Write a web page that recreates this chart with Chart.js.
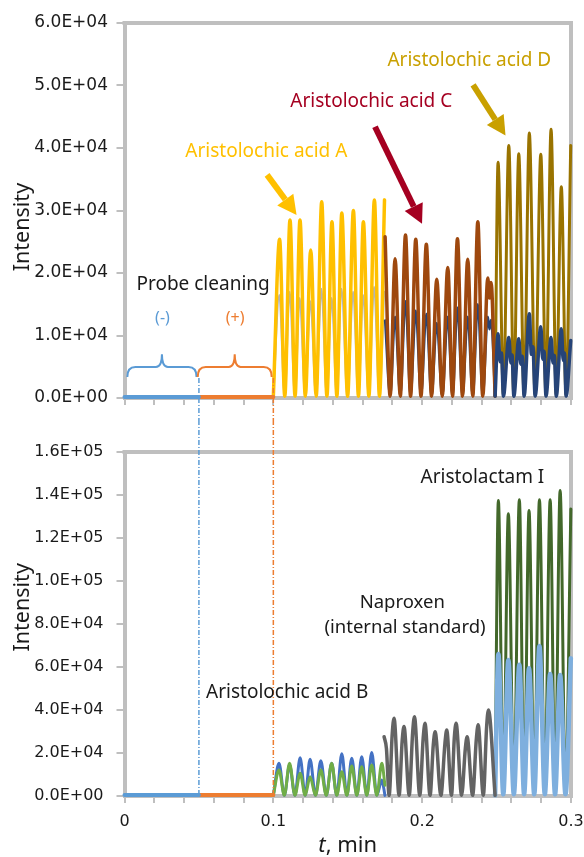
<!DOCTYPE html>
<html>
<head>
<meta charset="utf-8">
<script src="https://cdn.jsdelivr.net/npm/chart.js@4.4.1/dist/chart.umd.min.js"></script>
<style>
  html, body { margin: 0; padding: 0; background: #fff; }
  canvas { display: block; }
</style>
</head>
<body>
<canvas id="topChart" width="584" height="420"></canvas>
<canvas id="bottomChart" width="584" height="437"></canvas>
<script>
// ---------------- Axis labels ----------------
const xMajor = [0, 0.1, 0.2, 0.3];
const xMajorLabels = ["0", "0.1", "0.2", "0.3"];
const topYLabels = ["0.0E+00", "1.0E+04", "2.0E+04", "3.0E+04", "4.0E+04", "5.0E+04", "6.0E+04"];
const bottomYLabels = ["0.0E+00", "2.0E+04", "4.0E+04", "6.0E+04", "8.0E+04", "1.0E+05", "1.2E+05", "1.4E+05", "1.6E+05"];

// ---------------- Top panel data (t in min, intensity) ----------------
const cleanNegT = [0, 0.05];
const cleanNegI = [150, 150];
const cleanPosT = [0.05, 0.1];
const cleanPosI = [150, 150];

const aaAT = [0.1000, 0.1042, 0.1077, 0.1112, 0.1146, 0.1179, 0.1215, 0.1251, 0.1288, 0.1325, 0.1360,
              0.1394, 0.1427, 0.1460, 0.1499, 0.1538, 0.1572, 0.1605, 0.1642, 0.1679, 0.1713, 0.1747];
const aaAI = [200, 25400, 300, 28500, 300, 28500, 300, 23700, 300, 31400, 300,
              28200, 300, 29600, 300, 30000, 300, 28200, 300, 31700, 300, 31700];

const grayAT = [0.1000, 0.1040, 0.1076, 0.1110, 0.1145, 0.1177, 0.1214, 0.1249, 0.1287, 0.1323, 0.1359,
                0.1392, 0.1426, 0.1458, 0.1498, 0.1536, 0.1571, 0.1603, 0.1641, 0.1677, 0.1712, 0.1745];
const grayAI = [200, 16500, 300, 17000, 300, 16000, 300, 15500, 300, 17500, 300,
                16000, 300, 17500, 300, 17000, 300, 16500, 300, 17800, 300, 17000];

const aaCT = [0.1751, 0.1785, 0.1818, 0.1853, 0.1888, 0.1922, 0.1957, 0.1992, 0.2028, 0.2063, 0.2098, 0.2135,
              0.2172, 0.2204, 0.2237, 0.2271, 0.2306, 0.2340, 0.2374, 0.2407, 0.2441, 0.2452, 0.2463, 0.2490];
const aaCI = [25800, 300, 22300, 300, 26100, 300, 25400, 300, 24600, 300, 19000, 300,
              20900, 300, 25500, 300, 22200, 300, 28200, 300, 19200, 16000, 18500, 300];

// second channel under Aristolochic acid C
const navyCT = [0.1751, 0.1785, 0.1818, 0.1853, 0.1888, 0.1922, 0.1957, 0.1992, 0.2028, 0.2063, 0.2098, 0.2135,
                0.2172, 0.2204, 0.2237, 0.2271, 0.2306, 0.2340, 0.2374, 0.2407, 0.2441, 0.2452, 0.2463, 0.2490];
const navyCI = [12400, 300, 13000, 300, 15500, 300, 14000, 300, 13500, 300, 12000, 300,
                13000, 300, 14500, 300, 13000, 300, 15000, 300, 13000, 11000, 12500, 300];

// second channel under Aristolochic acid D (peak, dip, shoulder, trough)
const navyDT = [0.2490, 0.2510, 0.2524, 0.2533, 0.2546, 0.2582, 0.2596, 0.2604, 0.2616, 0.2649, 0.2663, 0.2672,
                0.2685, 0.2720, 0.2734, 0.2744, 0.2759, 0.2797, 0.2810, 0.2819, 0.2832, 0.2866, 0.2879, 0.2888,
                0.2901, 0.2935, 0.2948, 0.2956, 0.2967, 0.2998];
const navyDI = [300, 10300, 5800, 7200, 300, 9700, 5600, 6900, 300, 9500, 5400, 6700,
                300, 13500, 7000, 8200, 300, 11400, 6200, 7500, 300, 9700, 5600, 6800,
                300, 11100, 6000, 7200, 300, 9200];

const aaDT = [0.2490, 0.2510, 0.2546, 0.2582, 0.2616, 0.2649, 0.2685, 0.2720, 0.2759, 0.2797, 0.2832,
              0.2866, 0.2901, 0.2935, 0.2967, 0.2998];
const aaDI = [300, 37700, 500, 40400, 500, 39100, 500, 42400, 500, 39000, 500,
              43000, 500, 33800, 500, 40400];

// ---------------- Bottom panel data ----------------
const cleanNeg2I = [500, 500];
const cleanPos2I = [500, 500];

const aaBT = [0.1000, 0.1038, 0.1074, 0.1109, 0.1145, 0.1180, 0.1214, 0.1247, 0.1283, 0.1319, 0.1356, 0.1392,
              0.1426, 0.1460, 0.1494, 0.1527, 0.1561, 0.1594, 0.1628, 0.1661, 0.1695, 0.1729, 0.1750];
const aaBI = [300, 15200, 300, 14400, 300, 17800, 300, 17100, 300, 16400, 300, 15200,
              300, 19600, 300, 17600, 300, 18300, 300, 20200, 300, 7400, 300];
const greenBI = [300, 12100, 300, 15200, 300, 10600, 300, 9000, 300, 12100, 300, 15200,
                 300, 11300, 300, 14000, 300, 13600, 300, 14400, 300, 15200, 5000];

const naproxenT = [0.1744, 0.1760, 0.1778, 0.1799, 0.1811, 0.1845, 0.1866, 0.1878, 0.1913, 0.1936, 0.1948,
                   0.1984, 0.2007, 0.2019, 0.2053, 0.2075, 0.2087, 0.2126, 0.2153, 0.2165, 0.2197, 0.2216,
                   0.2228, 0.2265, 0.2290, 0.2302, 0.2339, 0.2364, 0.2376, 0.2411, 0.2433, 0.2445, 0.2490];
const naproxenI = [27600, 22000, 300, 29000, 36200, 300, 26000, 32300, 300, 29500, 36900,
                   300, 27000, 33800, 300, 24000, 29900, 300, 24500, 30700, 300, 27000,
                   33800, 300, 22000, 27600, 300, 26500, 33100, 300, 32000, 40000, 300];

const lactamT = [0.2490, 0.2512, 0.2545, 0.2579, 0.2616, 0.2653, 0.2685, 0.2718, 0.2753, 0.2788, 0.2824,
                 0.2860, 0.2893, 0.2927, 0.2963, 0.2999];
const lactamI = [300, 137500, 1000, 131300, 1000, 137800, 1000, 132800, 1000, 137800, 1000,
                 137800, 1000, 142100, 1000, 133500];
const lactamBlueI = [300, 66100, 800, 63300, 800, 61000, 800, 59400, 800, 69800, 800,
                     56800, 800, 56300, 800, 64100];

// ---------------- Helpers ----------------
Chart.defaults.font.family = "'Noto Sans', sans-serif";
Chart.defaults.color = "#1a1a1a";

const AXIS = "#BFBFBF";

function pairs(t, v) { return t.map((x, i) => ({ x, y: v[i] })); }

function lineSet(t, v, color, width) {
    return {
        data: pairs(t, v),
        borderColor: color,
        borderWidth: width,
        pointRadius: 0,
        fill: false,
        cubicInterpolationMode: "monotone",
        borderJoinStyle: "round",
        borderCapStyle: "round",
        clip: 4
    };
}

function xScale(showLabels, height) {
    return {
        type: "linear", min: 0, max: 0.3,
        afterFit: s => {
            s.height = height;
            s.paddingLeft = 0; s.paddingRight = 0;
        },
        grid: { drawOnChartArea: false, tickLength: 7, color: AXIS, lineWidth: 2 },
        border: { color: AXIS, width: 4 },
        ticks: {
            display: showLabels, stepSize: 0.02, autoSkip: false, maxRotation: 0, padding: 9,
            font: { family: "'DejaVu Sans'", size: 16 }, color: "#1a1a1a",
            callback: v => {
                const k = xMajor.findIndex(m => Math.abs(m - v) < 1e-6);
                return k >= 0 ? xMajorLabels[k] : "";
            }
        }
    };
}

function yScale(max, step, labels, size, pad) {
    return {
        min: 0, max,
        afterFit: s => {
            s.width = 124.5;
            s.paddingTop = 0; s.paddingBottom = 0;
        },
        grid: { drawOnChartArea: false, tickLength: 8, color: AXIS, lineWidth: 2 },
        border: { color: AXIS, width: 4 },
        ticks: {
            stepSize: step, padding: pad, color: "#1a1a1a",
            font: { family: "'DejaVu Sans'", size },
            callback: (v, i) => labels[i]
        }
    };
}

function drawArrow(ctx, x1, y1, x2, y2, color) {
    const ang = Math.atan2(y2 - y1, x2 - x1);
    const head = 19, half = 10;
    const bx = x2 - head * Math.cos(ang), by = y2 - head * Math.sin(ang);
    ctx.strokeStyle = color;
    ctx.lineWidth = 6;
    ctx.lineCap = "butt";
    ctx.beginPath(); ctx.moveTo(x1, y1); ctx.lineTo(bx, by); ctx.stroke();
    ctx.fillStyle = color;
    ctx.beginPath();
    ctx.moveTo(x2, y2);
    ctx.lineTo(bx + half * Math.sin(ang), by - half * Math.cos(ang));
    ctx.lineTo(bx - half * Math.sin(ang), by + half * Math.cos(ang));
    ctx.closePath(); ctx.fill();
}

function drawBrace(ctx, x1, x2, yEnd, yH, yTip, color) {
    const xm = (x1 + x2) / 2, r = 8;
    ctx.strokeStyle = color;
    ctx.lineWidth = 2;
    ctx.beginPath();
    ctx.moveTo(x1, yEnd);
    ctx.quadraticCurveTo(x1, yH, x1 + r, yH);
    ctx.lineTo(xm - 6, yH);
    ctx.quadraticCurveTo(xm, yH, xm, yTip);
    ctx.quadraticCurveTo(xm, yH, xm + 6, yH);
    ctx.lineTo(x2 - r, yH);
    ctx.quadraticCurveTo(x2, yH, x2, yEnd);
    ctx.stroke();
}

// ---------------- Decoration plugin ----------------
const decorPlugin = {
    id: "decor",
    beforeDatasetsDraw(chart) {
        const { ctx, chartArea: a } = chart;
        ctx.save();
        ctx.strokeStyle = AXIS;
        ctx.lineWidth = 4;
        ctx.beginPath();
        ctx.moveTo(a.left - 2, a.top);
        ctx.lineTo(a.right, a.top);
        ctx.lineTo(a.right, a.bottom + 2);
        ctx.stroke();
        ctx.restore();
    },
    afterDatasetsDraw(chart, args, opts) {
        const { ctx, scales: { x, y } } = chart;
        ctx.save();

        (opts.vlines || []).forEach(l => {
            const px = x.getPixelForValue(l.t);
            const y1 = l.from == null ? 0 : y.getPixelForValue(l.from);
            const y2 = l.to == null ? chart.height : y.getPixelForValue(l.to);
            ctx.strokeStyle = l.color;
            ctx.lineWidth = 1.5;
            ctx.setLineDash([5, 2, 1, 2]);
            ctx.beginPath(); ctx.moveTo(px, y1); ctx.lineTo(px, y2); ctx.stroke();
        });
        ctx.setLineDash([]);

        (opts.braces || []).forEach(b => {
            drawBrace(ctx, x.getPixelForValue(b.t1), x.getPixelForValue(b.t2),
                y.getPixelForValue(b.vEnd), y.getPixelForValue(b.vH), y.getPixelForValue(b.vTip), b.color);
        });

        (opts.arrows || []).forEach(a => {
            drawArrow(ctx, x.getPixelForValue(a.t1), y.getPixelForValue(a.v1),
                x.getPixelForValue(a.t2), y.getPixelForValue(a.v2), a.color);
        });

        ctx.textBaseline = "middle";
        ctx.textAlign = "center";
        (opts.texts || []).forEach(tx => {
            ctx.font = `${tx.size}px 'Noto Sans'`;
            ctx.fillStyle = tx.color || "#1a1a1a";
            ctx.fillText(tx.text, x.getPixelForValue(tx.t), y.getPixelForValue(tx.v));
        });

        // y axis title
        if (opts.yTitle) {
            ctx.save();
            ctx.translate(28.7, y.getPixelForValue(opts.yTitle.v));
            ctx.rotate(-Math.PI / 2);
            ctx.font = "21.5px 'Noto Sans'";
            ctx.fillStyle = "#1a1a1a";
            ctx.textAlign = "center";
            ctx.textBaseline = "alphabetic";
            ctx.fillText("Intensity", 0, 0);
            ctx.restore();
        }

        // x axis title: italic t
        if (opts.xTitle) {
            const cx = (chart.chartArea.left + chart.chartArea.right) / 2;
            const by = opts.xTitle.baseline;
            ctx.textBaseline = "alphabetic";
            ctx.textAlign = "left";
            ctx.fillStyle = "#1a1a1a";
            ctx.font = "italic 22px 'Noto Sans'";
            const w1 = ctx.measureText("t").width;
            ctx.font = "22px 'Noto Sans'";
            const w2 = ctx.measureText(", min").width;
            const sx = cx - (w1 + w2) / 2;
            ctx.font = "italic 22px 'Noto Sans'";
            ctx.fillText("t", sx, by);
            ctx.font = "22px 'Noto Sans'";
            ctx.fillText(", min", sx + w1, by);
        }
        ctx.restore();
    }
};

// ---------------- Top chart ----------------
new Chart(document.getElementById("topChart"), {
    type: "line",
    data: {
        datasets: [
            lineSet(cleanNegT, cleanNegI, "#5B9BD5", 4),
            lineSet(cleanPosT, cleanPosI, "#ED7D31", 4),
            lineSet(navyDT, navyDI, "#264478", 3.5),
            lineSet(aaCT, aaCI, "#9E480E", 3.5),
            lineSet(navyCT, navyCI, "#264478", 2.5),
            lineSet(aaDT, aaDI, "#997300", 3),
            lineSet(aaAT, aaAI, "#FFC000", 3.5),
            lineSet(grayAT, grayAI, "#B4B4B4", 2)
        ]
    },
    options: {
        responsive: false,
        animation: false,
        layout: { padding: { top: 23, right: 13, bottom: 0, left: 0 } },
        plugins: {
            legend: { display: false },
            tooltip: { enabled: false },
            decor: {
                vlines: [
                    { t: 0.05, from: 3200, to: null, color: "#5B9BD5" },
                    { t: 0.1, from: 3200, to: null, color: "#ED7D31" }
                ],
                braces: [
                    { t1: 0.0019, t2: 0.0484, vEnd: 3370, vH: 4970, vTip: 7000, color: "#5B9BD5" },
                    { t1: 0.0492, t2: 0.0989, vEnd: 3370, vH: 4970, vTip: 7000, color: "#ED7D31" }
                ],
                arrows: [
                    { t1: 0.0958, v1: 35700, t2: 0.1156, v2: 29300, color: "#FFC000" },
                    { t1: 0.1683, v1: 43400, t2: 0.1999, v2: 27900, color: "#A50021" },
                    { t1: 0.2342, v1: 50100, t2: 0.2560, v2: 42000, color: "#C9A000" }
                ],
                texts: [
                    { text: "Probe cleaning", t: 0.0528, v: 18200, size: 19 },
                    { text: "(-)", t: 0.0255, v: 12800, size: 16, color: "#5B9BD5" },
                    { text: "(+)", t: 0.0743, v: 12800, size: 16, color: "#ED7D31" },
                    { text: "Aristolochic acid A", t: 0.0953, v: 39400, size: 19, color: "#FFC000" },
                    { text: "Aristolochic acid C", t: 0.1658, v: 47400, size: 19, color: "#A50021" },
                    { text: "Aristolochic acid D", t: 0.2317, v: 54000, size: 19, color: "#C9A000" }
                ],
                yTitle: { v: 27350 }
            }
        },
        scales: {
            x: xScale(false, 22),
            y: yScale(60000, 10000, topYLabels, 17, 8.5)
        }
    },
    plugins: [decorPlugin]
});

// ---------------- Bottom chart ----------------
new Chart(document.getElementById("bottomChart"), {
    type: "line",
    data: {
        datasets: [
            lineSet(cleanNegT, cleanNeg2I, "#5B9BD5", 4),
            lineSet(cleanPosT, cleanPos2I, "#ED7D31", 4),
            lineSet(aaBT, greenBI, "#70AD47", 3),
            lineSet(aaBT, aaBI, "#4472C4", 3),
            lineSet(naproxenT, naproxenI, "#636363", 3.5),
            lineSet(lactamT, lactamBlueI, "#7EAFDE", 4.5),
            lineSet(lactamT, lactamI, "#43682B", 3)
        ]
    },
    options: {
        responsive: false,
        animation: false,
        layout: { padding: { top: 32, right: 13, bottom: 0, left: 0 } },
        plugins: {
            legend: { display: false },
            tooltip: { enabled: false },
            decor: {
                vlines: [
                    { t: 0.05, from: null, to: 0, color: "#5B9BD5" },
                    { t: 0.1, from: null, to: 0, color: "#ED7D31" }
                ],
                texts: [
                    { text: "Aristolactam I", t: 0.2405, v: 147900, size: 19 },
                    { text: "Naproxen", t: 0.1866, v: 90000, size: 18.5 },
                    { text: "(internal standard)", t: 0.1885, v: 78100, size: 18.5 },
                    { text: "Aristolochic acid B", t: 0.1093, v: 48100, size: 19 }
                ],
                yTitle: { v: 87760 },
                xTitle: { baseline: 431.5 }
            }
        },
        scales: {
            x: xScale(true, 61),
            y: yScale(160000, 20000, bottomYLabels, 16, 13)
        }
    },
    plugins: [decorPlugin]
});
</script>
</body>
</html>
